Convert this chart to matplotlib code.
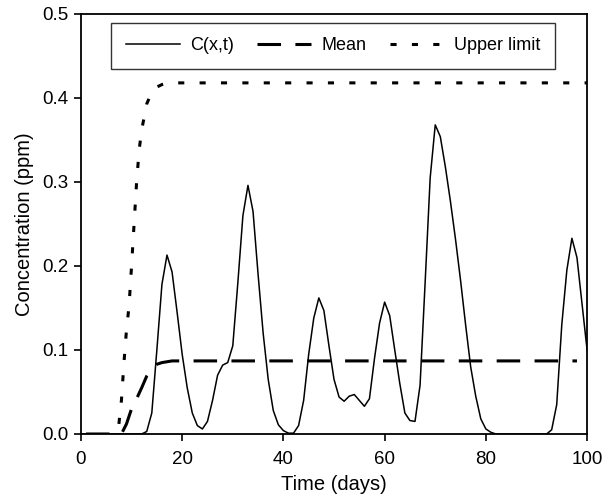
import numpy as np
import matplotlib.pyplot as plt

plt.rcParams['font.family'] = ['Liberation Sans', 'DejaVu Sans']

# concentration at the observation point, one value per day
days = np.arange(0, 101)
conc = [0, 0, 0, 0, 0, 0, 0, 0, 0, 0, 0, 0, 0,
        0.003, 0.025, 0.10, 0.178, 0.213, 0.193, 0.145, 0.095, 0.055, 0.025,
        0.010, 0.006, 0.015, 0.04, 0.07, 0.082, 0.085, 0.105, 0.18, 0.26,
        0.296, 0.265, 0.19, 0.12, 0.065, 0.028, 0.011, 0.004, 0.001, 0.001,
        0.01, 0.04, 0.095, 0.138, 0.162, 0.147, 0.105, 0.065, 0.044, 0.039,
        0.045, 0.047, 0.04, 0.033, 0.042, 0.09, 0.132, 0.157, 0.141, 0.10,
        0.06, 0.025, 0.016, 0.015, 0.058, 0.18, 0.305, 0.368, 0.354, 0.318,
        0.277, 0.232, 0.183, 0.13, 0.08, 0.045, 0.018, 0.006, 0.002,
        0, 0, 0, 0, 0, 0, 0, 0, 0, 0, 0,
        0.005, 0.035, 0.13, 0.195, 0.233, 0.21, 0.155, 0.10]

mean_days = [1, 8, 9, 10, 11, 12, 13, 14, 15, 16, 17, 18, 98]
mean_conc = [0, 0, 0.012, 0.03, 0.042, 0.055, 0.069, 0.078, 0.083, 0.085,
             0.086, 0.087, 0.087]

upper_days = [7.5, 8, 8.5, 9, 9.5, 10, 10.5, 11, 11.5, 12, 13, 14, 15, 16,
              17, 100]
upper_conc = [0.012, 0.04, 0.085, 0.124, 0.152, 0.20, 0.25, 0.30, 0.338,
              0.362, 0.393, 0.407, 0.413, 0.416, 0.418, 0.418]

fig, ax = plt.subplots(figsize=(6.04, 5.0), dpi=100)
fig.subplots_adjust(left=0.134, right=0.972, top=0.972, bottom=0.132)

ax.plot(days, conc, color='black', lw=1.1, label='C(x,t)')
ax.plot(mean_days, mean_conc, color='black', lw=2.2,
        linestyle=(0, (7.7, 4.7)), label='Mean')
ax.plot(upper_days, upper_conc, color='black', lw=2.2,
        linestyle=(0, (2, 5)), label='Upper limit')

ax.set_xlim(0, 100)
ax.set_ylim(0, 0.5)
ax.set_xticks([0, 20, 40, 60, 80, 100])
ax.set_yticks([0.0, 0.1, 0.2, 0.3, 0.4, 0.5])
ax.set_yticklabels(['0.0', '0.1', '0.2', '0.3', '0.4', '0.5'])
ax.tick_params(direction='out', length=5, width=1.2, labelsize=13.5)
ax.tick_params(axis='x', pad=7)
ax.tick_params(axis='y', pad=4)
for s in ax.spines.values():
    s.set_linewidth(1.3)

ax.set_xlabel('Time (days)', fontsize=14.5, labelpad=5)
ax.set_ylabel('Concentration (ppm)', fontsize=14.5, labelpad=6)

leg = ax.legend(loc='upper center', bbox_to_anchor=(0.498, 0.979), ncol=3,
                fontsize=13, frameon=True, fancybox=False, borderaxespad=0,
                handlelength=3.0, handletextpad=0.55, columnspacing=1.3,
                borderpad=0.8)
leg.get_frame().set_edgecolor('black')
leg.get_frame().set_linewidth(1.0)

plt.savefig('out.png', dpi=100)
